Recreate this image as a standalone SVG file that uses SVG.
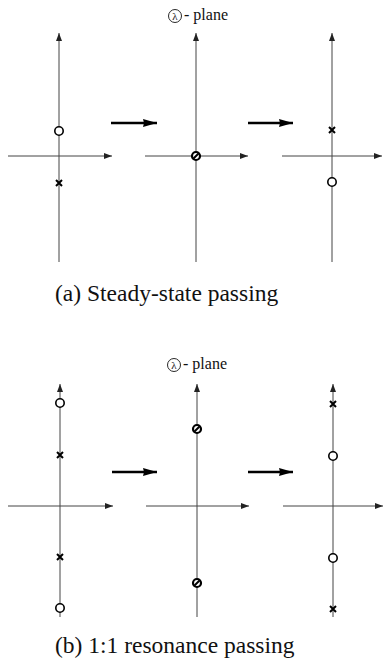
<svg xmlns="http://www.w3.org/2000/svg" width="389" height="667" viewBox="0 0 389 667">
<defs>
<marker id="ah" viewBox="0 0 8 6" refX="8" refY="3" markerWidth="8" markerHeight="6" markerUnits="userSpaceOnUse" orient="auto">
<path d="M0,0 L8,3 L0,6 Z" fill="#222"/>
</marker>
<marker id="big" viewBox="0 0 14 8" refX="14" refY="4" markerWidth="14" markerHeight="8" markerUnits="userSpaceOnUse" orient="auto">
<path d="M0,0 L14,4 L0,8 L1,4 Z" fill="#000"/>
</marker>
<g id="cross"><path d="M-3,-3 L3,3 M-3,3 L3,-3" stroke="#000" stroke-width="2"/></g>
<g id="zero"><circle r="4.2" fill="#fff" stroke="#000" stroke-width="1.6"/></g>
<g id="both"><circle r="4" fill="#fff" stroke="#000" stroke-width="2.2"/><path d="M-2.5,2.5 L2.5,-2.5" stroke="#000" stroke-width="2"/></g>
</defs>
<style>
.ax{stroke:#444;stroke-width:1;fill:none}
.bar{stroke:#000;stroke-width:2.5;fill:none}
.cap{font-family:"Liberation Serif","Times New Roman","DejaVu Serif",serif;font-size:23.5px;fill:#111}
.lbl{font-family:"Liberation Serif","Times New Roman","DejaVu Serif",serif;font-size:16px;fill:#111}
.lam{font-family:"Liberation Serif","Times New Roman","DejaVu Serif",serif;font-size:11px;fill:#111}
</style>

<g id="connectors">
<line class="bar" x1="111" y1="123" x2="157" y2="123" marker-end="url(#big)"/>
<line class="bar" x1="248" y1="123" x2="293" y2="123" marker-end="url(#big)"/>
<line class="bar" x1="112" y1="472" x2="157" y2="472" marker-end="url(#big)"/>
<line class="bar" x1="248" y1="472" x2="293" y2="472" marker-end="url(#big)"/>
</g>

<g id="label-a-plane">
<circle cx="175" cy="16" r="6.5" fill="none" stroke="#111" stroke-width="0.9"/>
<text class="lam" x="175" y="19.5" text-anchor="middle">λ</text>
<text class="lbl" x="184" y="20">- plane</text>
</g>

<g id="a-panel1">
<line class="ax" x1="59" y1="262" x2="59" y2="33" marker-end="url(#ah)"/>
<line class="ax" x1="8" y1="156" x2="112" y2="156" marker-end="url(#ah)"/>
<use href="#zero" x="59" y="131"/>
<use href="#cross" x="59" y="183"/>
</g>
<g id="a-panel2">
<line class="ax" x1="196" y1="262" x2="196" y2="33" marker-end="url(#ah)"/>
<line class="ax" x1="145" y1="156" x2="248" y2="156" marker-end="url(#ah)"/>
<use href="#both" x="196" y="156"/>
</g>
<g id="a-panel3">
<line class="ax" x1="332" y1="262" x2="332" y2="33" marker-end="url(#ah)"/>
<line class="ax" x1="282" y1="156" x2="382" y2="156" marker-end="url(#ah)"/>
<use href="#cross" x="332" y="130"/>
<use href="#zero" x="332" y="182"/>
</g>
<g id="caption-a"><text class="cap" x="55" y="301">(a) Steady-state passing</text></g>

<g id="label-b-plane">
<circle cx="174" cy="365" r="6.5" fill="none" stroke="#111" stroke-width="0.9"/>
<text class="lam" x="174" y="368.5" text-anchor="middle">λ</text>
<text class="lbl" x="183" y="369">- plane</text>
</g>

<g id="b-panel1">
<line class="ax" x1="60" y1="617" x2="60" y2="384" marker-end="url(#ah)"/>
<line class="ax" x1="8" y1="506" x2="113" y2="506" marker-end="url(#ah)"/>
<use href="#zero" x="60" y="403"/>
<use href="#cross" x="60" y="455"/>
<use href="#cross" x="60" y="557"/>
<use href="#zero" x="60" y="608"/>
</g>
<g id="b-panel2">
<line class="ax" x1="197" y1="617" x2="197" y2="384" marker-end="url(#ah)"/>
<line class="ax" x1="146" y1="506" x2="249" y2="506" marker-end="url(#ah)"/>
<use href="#both" x="197" y="429"/>
<use href="#both" x="197" y="583"/>
</g>
<g id="b-panel3">
<line class="ax" x1="333" y1="617" x2="333" y2="384" marker-end="url(#ah)"/>
<line class="ax" x1="283" y1="506" x2="383" y2="506" marker-end="url(#ah)"/>
<use href="#cross" x="333" y="404"/>
<use href="#zero" x="333" y="456"/>
<use href="#zero" x="333" y="558"/>
<use href="#cross" x="333" y="609"/>
</g>
<g id="caption-b"><text class="cap" x="55" y="653">(b) 1:1 resonance passing</text></g>
</svg>
